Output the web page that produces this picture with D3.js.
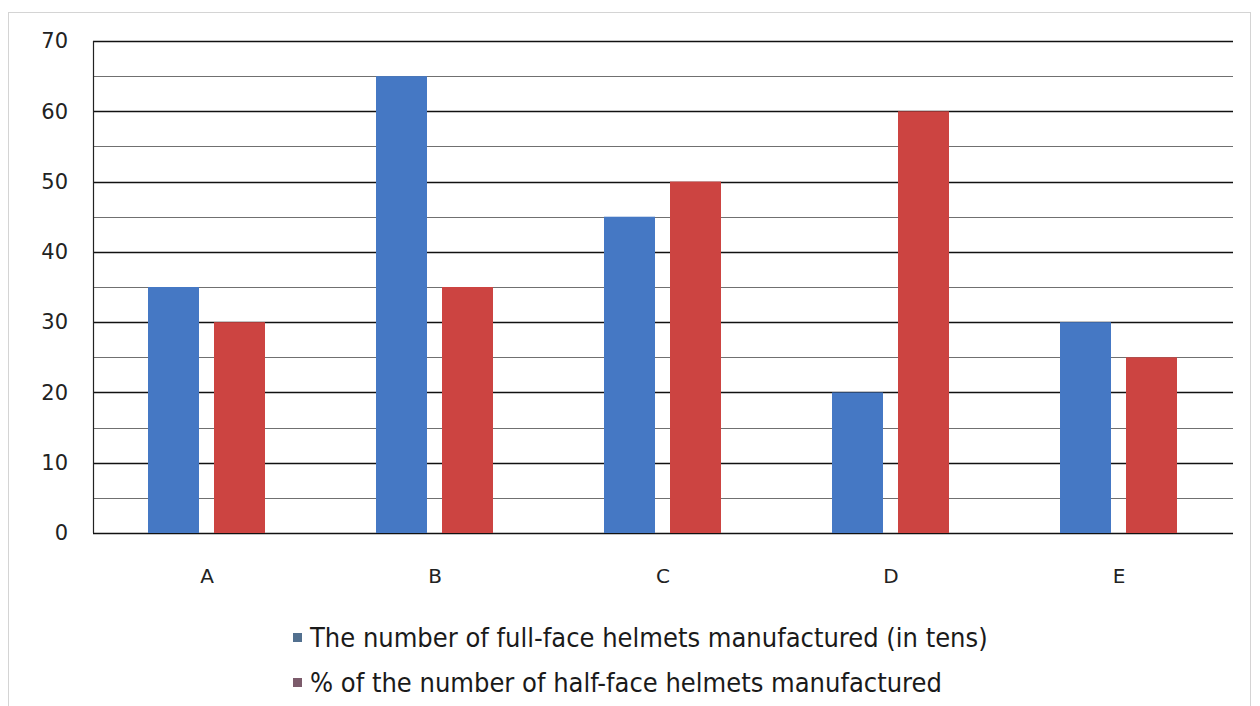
<!DOCTYPE html>
<html>
<head>
<meta charset="utf-8">
<script src="https://cdn.jsdelivr.net/npm/d3@7"></script>
<style>
  body { margin: 0; background: #fff; }
  svg { display: block; }
</style>
</head>
<body>
<div class="canvas"></div>
<script>
// the numbers
var categories = ['A', 'B', 'C', 'D', 'E'],
    fullFace = [35, 65, 45, 20, 30],
    halfFacePct = [30, 35, 50, 60, 25],
    yTicks = [0, 10, 20, 30, 40, 50, 60, 70],
    seriesNames = [
        'The number of full-face helmets manufactured (in tens)',
        '% of the number of half-face helmets manufactured'
    ];

// where does it live
var width = 1260,
    height = 706,
    plot = { left: 93, right: 1233, top: 41, bottom: 533 };

var svg = d3.select('.canvas').append('svg')
    .attr('width', width)
    .attr('height', height)
    .style('font-family', '"DejaVu Sans", Verdana, sans-serif');

// faint frame around the whole chart
svg.append('rect')
    .attr('x', 8.5).attr('y', 12.5)
    .attr('width', 1242).attr('height', 700)
    .attr('fill', 'none')
    .attr('stroke', '#d4d4d4');

var x = d3.scaleBand()
    .domain(categories)
    .range([plot.left, plot.right]);

// two bars per group, 51px wide with a 15px gap
var inner = d3.scaleBand()
    .domain([0, 1])
    .range([55, 172])
    .paddingInner(15 / 66)
    .paddingOuter(0);

var y = d3.scaleLinear()
    .domain([0, 70])
    .range([plot.bottom, plot.top]);

// gridlines, dark every 10, lighter every 5
svg.append('g')
    .selectAll('line')
    .data(d3.range(5, 75, 10))
    .enter()
    .append('line')
    .attr('x1', plot.left).attr('x2', plot.right)
    .attr('y1', function (d) { return Math.round(y(d)) + 0.5; })
    .attr('y2', function (d) { return Math.round(y(d)) + 0.5; })
    .attr('stroke', '#707070')
    .attr('stroke-width', 1.2);

svg.append('g')
    .selectAll('line')
    .data(yTicks)
    .enter()
    .append('line')
    .attr('x1', plot.left).attr('x2', plot.right)
    .attr('y1', function (d) { return Math.round(y(d)) + 0.5; })
    .attr('y2', function (d) { return Math.round(y(d)) + 0.5; })
    .attr('stroke', '#111')
    .attr('stroke-width', 1.3);

// bars
var colors = ['#4578c4', '#cc4441'];
var rows = categories.map(function (c, i) {
    return { cat: c, vals: [fullFace[i], halfFacePct[i]] };
});

svg.append('g')
    .selectAll('g')
    .data(rows)
    .enter()
    .append('g')
    .attr('transform', function (d) { return 'translate(' + x(d.cat) + ',0)'; })
    .selectAll('rect')
    .data(function (d) { return d.vals; })
    .enter()
    .append('rect')
    .attr('x', function (d, i) { return inner(i); })
    .attr('y', function (d) { return y(d); })
    .attr('width', inner.bandwidth())
    .attr('height', function (d) { return y(0) - y(d); })
    .attr('fill', function (d, i) { return colors[i]; });

// y axis line
svg.append('line')
    .attr('x1', plot.left + 0.5).attr('x2', plot.left + 0.5)
    .attr('y1', plot.top).attr('y2', plot.bottom)
    .attr('stroke', '#222')
    .attr('stroke-width', 1.2);

// y tick labels
svg.append('g')
    .selectAll('text')
    .data(yTicks)
    .enter()
    .append('text')
    .attr('x', 68)
    .attr('y', function (d) { return y(d); })
    .attr('dy', '0.35em')
    .attr('text-anchor', 'end')
    .attr('font-size', 21)
    .attr('fill', '#222')
    .text(function (d) { return d; });

// category labels
svg.append('g')
    .selectAll('text')
    .data(categories)
    .enter()
    .append('text')
    .attr('x', function (d) { return x(d) + x.bandwidth() / 2; })
    .attr('y', 583)
    .attr('text-anchor', 'middle')
    .attr('font-size', 20)
    .attr('fill', '#222')
    .text(function (d) { return d; });

// legend
var legendColors = ['#52708f', '#7c5b6b'];
var legend = svg.append('g')
    .selectAll('g')
    .data(seriesNames)
    .enter()
    .append('g')
    .attr('transform', function (d, i) { return 'translate(293,' + (638 + i * 45) + ')'; });

legend.append('rect')
    .attr('x', 0).attr('y', -5)
    .attr('width', 9).attr('height', 9)
    .attr('fill', function (d, i) { return legendColors[i]; });

legend.append('text')
    .attr('x', 17)
    .attr('y', 0)
    .attr('dy', '0.35em')
    .attr('font-size', 27)
    .attr('fill', '#1a1a1a')
    .style('font-family', '"DejaVu Sans Condensed", "DejaVu Sans", sans-serif')
    .text(function (d) { return d; });
</script>
</body>
</html>
